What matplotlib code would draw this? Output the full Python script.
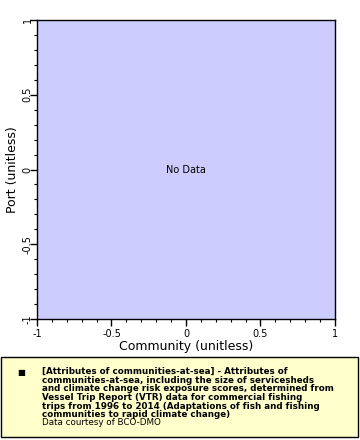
import numpy as np
import matplotlib
matplotlib.use('Agg')
import matplotlib.pyplot as plt
from matplotlib.ticker import MultipleLocator

x_ticks = [-1, -0.5, 0, 0.5, 1]
x_labels = ['-1', '-0.5', '0', '0.5', '1']
y_ticks = [-1, -0.5, 0, 0.5, 1]
y_labels = ['-1', '-0.5', '0', '0.5', '1']
x_label = 'Community (unitless)'
y_label = 'Port (unitless)'
title_text = ('[Attributes of communities-at-sea] - Attributes of\n'
              'communities-at-sea, including the size of servicesheds\n'
              'and climate change risk exposure scores, determined from\n'
              'Vessel Trip Report (VTR) data for commercial fishing\n'
              'trips from 1996 to 2014 (Adaptations of fish and fishing\n'
              'communities to rapid climate change)')
courtesy = 'Data courtesy of BCO-DMO'

W, H = 360, 440
fig = plt.figure(figsize=(W / 100, H / 100), dpi=100)
ax = fig.add_axes([37 / W, 1 - 319 / H, 298 / W, 299 / H])
ax.set_facecolor('#ccccff')
ax.set_xlim(-1, 1)
ax.set_ylim(-1, 1)
ax.set_xticks(x_ticks)
ax.set_xticklabels(x_labels, fontsize=7)
ax.set_yticks(y_ticks)
ax.set_yticklabels(y_labels, fontsize=7, rotation=90, va='center')
ax.xaxis.set_minor_locator(MultipleLocator(0.1))
ax.yaxis.set_minor_locator(MultipleLocator(0.1))
ax.tick_params(which='major', length=5, width=1, direction='out', pad=2)
ax.tick_params(axis='y', which='major', pad=-2)
ax.tick_params(which='minor', length=2.5, width=0.8, direction='out')
for s in ax.spines.values():
    s.set_linewidth(1)
ax.set_xlabel(x_label, fontsize=9, labelpad=1)
ax.set_ylabel(y_label, fontsize=9)
ax.yaxis.set_label_coords(-18 / 298, 0.5)
ax.text(0, 0, 'No Data', fontsize=7, ha='center', va='center')

# legend box
box = plt.Rectangle((1 / W, 1 - 437 / H), 357 / W, 80 / H, transform=fig.transFigure,
                    facecolor='#ffffcc', edgecolor='black', linewidth=1)
fig.patches.append(box)
fig.text(17 / W, 1 - 372 / H, '\u25a0', fontsize=6, va='center', ha='left')
fig.text(42 / W, 1 - 367 / H, title_text, fontsize=6.3, fontweight='bold',
         va='top', ha='left', linespacing=0.95)
fig.text(42 / W, 1 - 418 / H, courtesy, fontsize=6.3, va='top', ha='left')

fig.savefig('out.png', dpi=100)
